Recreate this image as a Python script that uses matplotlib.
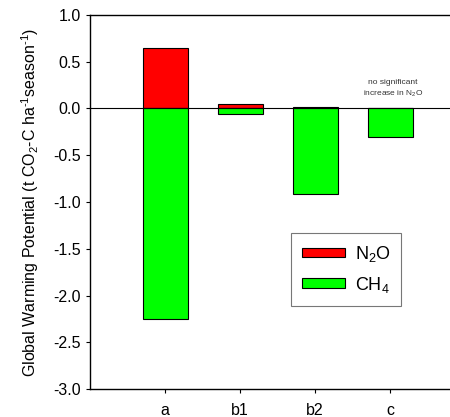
import matplotlib
matplotlib.use("Agg")
import matplotlib.pyplot as plt
import numpy as np

plt.rcParams["font.family"] = ["Liberation Sans", "DejaVu Sans"]
plt.rcParams["mathtext.default"] = "regular"

treatments = ["a", "b1", "b2", "c"]
n2o = [0.65, 0.05, 0.015, 0.0]
ch4 = [-2.25, -0.06, -0.91, -0.30]

x = np.arange(len(treatments))

fig = plt.figure(figsize=(4.5, 4.17), dpi=100)
ax = fig.add_axes([0.2, 0.0671, 0.8, 0.897])

ax.bar(x, n2o, width=0.6, color="#ff0000", edgecolor="black", linewidth=0.8, label="N$_2$O")
ax.bar(x, ch4, width=0.6, color="#00ff00", edgecolor="black", linewidth=0.8, label="CH$_4$")
ax.axhline(0, color="black", linewidth=0.8)

ax.set_xlim(-1, 3.8)
ax.set_ylim(-3.0, 1.0)
ticks = np.arange(-3.0, 1.01, 0.5)
ax.set_yticks(ticks)
ax.set_yticklabels(["%.1f" % v for v in ticks])
ax.set_xticks(x)
ax.set_xticklabels(treatments)
ax.tick_params(axis="both", labelsize=11.5, direction="out", length=3, width=0.8)
ax.tick_params(axis="x", pad=7)
ax.spines["right"].set_visible(False)
for s in ["left", "bottom", "top"]:
    ax.spines[s].set_linewidth(1.0)

ax.set_ylabel("Global Warming Potential (t CO$_2$-C ha$^{‐1}$season$^{‐1}$)",
              fontsize=11.5, labelpad=9)

ax.text(3.04, 0.21, "no significant\nincrease in N$_2$O", fontsize=6, ha="center",
        va="center", color="#333333", linespacing=1.35)

leg = fig.legend(loc="upper left", bbox_to_anchor=(0.646, 0.441), fontsize=13,
                 frameon=True, fancybox=False, edgecolor="#555555",
                 handlelength=2.4, handleheight=0.45, borderpad=0.6,
                 labelspacing=0.6, handletextpad=0.55, borderaxespad=0)
leg.get_frame().set_linewidth(0.8)

fig.savefig("out.png", dpi=100)
plt.close(fig)
